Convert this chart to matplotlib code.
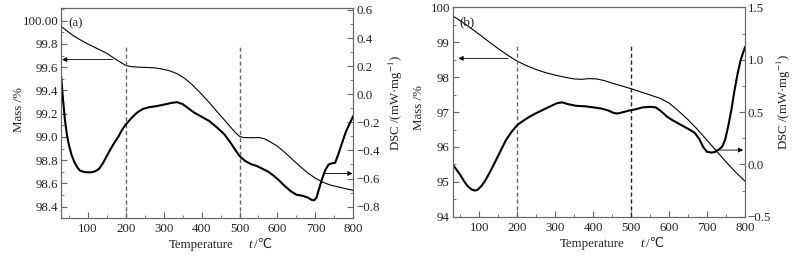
import matplotlib
matplotlib.use("Agg")
import matplotlib.pyplot as plt
from matplotlib.ticker import MultipleLocator

plt.rcParams['font.family'] = ['Liberation Serif', 'STIXGeneral', 'DejaVu Sans']
plt.rcParams['mathtext.fontset'] = 'stix'
plt.rcParams['font.size'] = 9.3
plt.rcParams['axes.unicode_minus'] = True

# ---- panel (a) ----
temp_a_mass = [30, 40, 50, 60, 75, 100, 125, 150, 175, 190, 200, 215, 235, 255, 275, 295,
               315, 335, 355, 375, 395, 415, 435, 455, 475, 490, 500, 510, 530, 550, 565,
               580, 600, 620, 640, 660, 680, 700, 720, 740, 760, 780, 800]
mass_a = [99.95, 99.925, 99.90, 99.875, 99.845, 99.80, 99.76, 99.72, 99.665, 99.635, 99.615,
          99.605, 99.60, 99.598, 99.595, 99.585, 99.57, 99.545, 99.505, 99.45, 99.385, 99.315,
          99.24, 99.165, 99.09, 99.035, 99.005, 98.995, 98.993, 98.995, 98.985, 98.96, 98.92,
          98.865, 98.805, 98.745, 98.69, 98.645, 98.61, 98.585, 98.57, 98.555, 98.54]
temp_a_dsc = [30, 32, 35, 40, 45, 50, 57, 64, 72, 80, 90, 100, 110, 120, 130, 140, 150, 160,
              170, 180, 190, 200, 215, 230, 245, 260, 280, 300, 320, 335, 350, 365, 380, 400,
              420, 440, 460, 475, 490, 500, 515, 530, 545, 560, 575, 590, 605, 620, 635, 650,
              665, 680, 690, 697, 703, 710, 718, 726, 735, 745, 752, 760, 770, 780, 790, 800]
dsc_a = [0.12, 0.05, -0.05, -0.19, -0.29, -0.36, -0.43, -0.48, -0.52, -0.545, -0.553, -0.556,
         -0.555, -0.548, -0.53, -0.49, -0.44, -0.39, -0.345, -0.305, -0.255, -0.215, -0.17,
         -0.13, -0.105, -0.093, -0.085, -0.074, -0.062, -0.056, -0.07, -0.1, -0.13, -0.16,
         -0.19, -0.235, -0.285, -0.34, -0.4, -0.44, -0.475, -0.497, -0.51, -0.53, -0.55,
         -0.58, -0.615, -0.655, -0.69, -0.715, -0.722, -0.735, -0.752, -0.755, -0.735, -0.67,
         -0.6, -0.54, -0.5, -0.49, -0.488, -0.43, -0.35, -0.27, -0.21, -0.155]
mass_a_ticks = [98.4, 98.6, 98.8, 99.0, 99.2, 99.4, 99.6, 99.8, 100.0]
mass_a_labels = ['98.4', '98.6', '98.8', '99.0', '99.2', '99.4', '99.6', '99.8', '100.00']
dsc_a_ticks = [-0.8, -0.6, -0.4, -0.2, 0.0, 0.2, 0.4, 0.6]

# ---- panel (b) ----
temp_b_mass = [30, 50, 75, 100, 125, 150, 175, 200, 225, 250, 275, 300, 325, 350, 370, 390,
               410, 430, 450, 475, 500, 525, 550, 575, 600, 625, 650, 675, 700, 725, 750,
               775, 800]
mass_b = [99.76, 99.62, 99.43, 99.23, 99.02, 98.82, 98.63, 98.46, 98.33, 98.22, 98.13, 98.06,
          98.00, 97.95, 97.94, 97.96, 97.95, 97.90, 97.83, 97.75, 97.67, 97.58, 97.49, 97.40,
          97.26, 97.03, 96.78, 96.50, 96.19, 95.88, 95.57, 95.28, 95.02]
temp_b_dsc = [30, 40, 50, 60, 70, 80, 88, 95, 105, 115, 125, 140, 155, 170, 185, 200, 215,
              230, 250, 270, 290, 305, 318, 335, 355, 380, 400, 420, 440, 455, 465, 480, 495,
              510, 530, 550, 565, 580, 595, 610, 625, 640, 655, 668, 680, 690, 700, 712, 722,
              732, 740, 748, 756, 764, 772, 780, 788, 795, 800]
dsc_b = [0.0, -0.05, -0.10, -0.16, -0.21, -0.24, -0.25, -0.245, -0.21, -0.16, -0.095, 0.01,
         0.12, 0.23, 0.31, 0.375, 0.415, 0.45, 0.49, 0.525, 0.56, 0.585, 0.593, 0.575, 0.56,
         0.555, 0.545, 0.535, 0.515, 0.49, 0.487, 0.5, 0.515, 0.525, 0.545, 0.55, 0.545,
         0.505, 0.455, 0.42, 0.39, 0.36, 0.33, 0.30, 0.24, 0.165, 0.12, 0.113, 0.12, 0.145,
         0.17, 0.24, 0.37, 0.52, 0.70, 0.86, 0.99, 1.07, 1.12]
mass_b_ticks = [94, 95, 96, 97, 98, 99, 100]
dsc_b_ticks = [-0.5, 0.0, 0.5, 1.0, 1.5]

x_ticks = [100, 200, 300, 400, 500, 600, 700, 800]

spine_col = '#666666'
text_col = '#222222'

fig = plt.figure(figsize=(8.03, 2.57), dpi=100)


def style(ax):
    for s in ax.spines.values():
        s.set_color(spine_col)
        s.set_linewidth(0.8)
    ax.tick_params(which='both', direction='in', colors=spine_col, labelcolor=text_col,
                   top=False, pad=2)
    ax.tick_params(which='major', length=4)
    ax.tick_params(which='minor', length=2.5)


def panel(rect, tm, mass, td, dsc, mylim, mticks, mlabels, mminor, dylim, dticks, dminor,
          letter, left_arrow, right_arrow, dash_tops, dash_cols, lab_x):
    ax = fig.add_axes(rect)
    axr = ax.twinx()
    ax.set_xlim(30, 800)
    ax.set_ylim(*mylim)
    axr.set_ylim(*dylim)
    ax.plot(tm, mass, color='black', lw=0.8)
    axr.plot(td, dsc, color='black', lw=1.5)
    for xv, top, c in zip([200, 500], dash_tops, dash_cols):
        ax.plot([xv, xv], [mylim[0], top], color=c, lw=1.0, dashes=(3, 2))
    ax.set_xticks(x_ticks)
    ax.xaxis.set_minor_locator(MultipleLocator(50))
    ax.set_yticks(mticks)
    ax.set_yticklabels(mlabels)
    ax.yaxis.set_minor_locator(MultipleLocator(mminor))
    axr.set_yticks(dticks)
    axr.set_yticklabels(['%.1f' % v if v >= 0 else '\u2212%.1f' % -v for v in dticks])
    axr.yaxis.set_minor_locator(MultipleLocator(dminor))
    style(ax)
    style(axr)
    ax.tick_params(axis='x', pad=3.5)
    axr.tick_params(which='both', left=False, right=True)
    ax.tick_params(which='both', right=False)
    # x label pieces: "Temperature      t /℃"
    ax.text(0.478, -0.1, 'Temperature', transform=ax.transAxes, ha='center', va='top',
            color=text_col)
    ax.text(0.648, -0.1, 't', transform=ax.transAxes, ha='center', va='top',
            color=text_col, style='italic')
    ax.text(0.66, -0.1, '/\u2103', transform=ax.transAxes, ha='left', va='top',
            color=text_col)
    ax.set_ylabel('Mass /%', color=text_col)
    axr.set_ylabel('DSC /(mW\u00b7mg$^{-1}$)', color=text_col)
    ax.yaxis.set_label_coords(lab_x[0], 0.52)
    axr.yaxis.set_label_coords(lab_x[1], 0.55)
    ax.text(48, mylim[1] - (mylim[1] - mylim[0]) * 0.07, letter, color=text_col,
            ha='left', va='center')
    arr = dict(arrowstyle='-|>', color='black', lw=0.6, mutation_scale=7, shrinkA=0, shrinkB=0)
    ax.annotate('', xy=(left_arrow[1], left_arrow[2]), xytext=(left_arrow[0], left_arrow[2]),
                arrowprops=arr)
    axr.annotate('', xy=(right_arrow[1], right_arrow[2]), xytext=(right_arrow[0], right_arrow[2]),
                 arrowprops=arr)
    return ax, axr


panel([0.0763, 0.1506, 0.3637, 0.8171], temp_a_mass, mass_a, temp_a_dsc, dsc_a,
      (98.30, 100.107), mass_a_ticks, mass_a_labels, 0.1,
      (-0.883, 0.612), dsc_a_ticks, 0.1, '(a)',
      (166, 32, 99.666), (724, 798, -0.564), (99.774, 99.774), ('#666666', '#666666'),
      (-0.124, 1.116))

panel([0.5637, 0.1568, 0.3641, 0.8142], temp_b_mass, mass_b, temp_b_dsc, dsc_b,
      (94, 100), mass_b_ticks, [str(v) for v in mass_b_ticks], 0.5,
      (-0.5, 1.5), dsc_b_ticks, 0.25, '(b)',
      (176, 45, 98.54), (721, 795, 0.137), (98.99, 98.9), ('#666666', '#222222'),
      (-0.095, 1.103))

fig.savefig('out.png', dpi=100)
